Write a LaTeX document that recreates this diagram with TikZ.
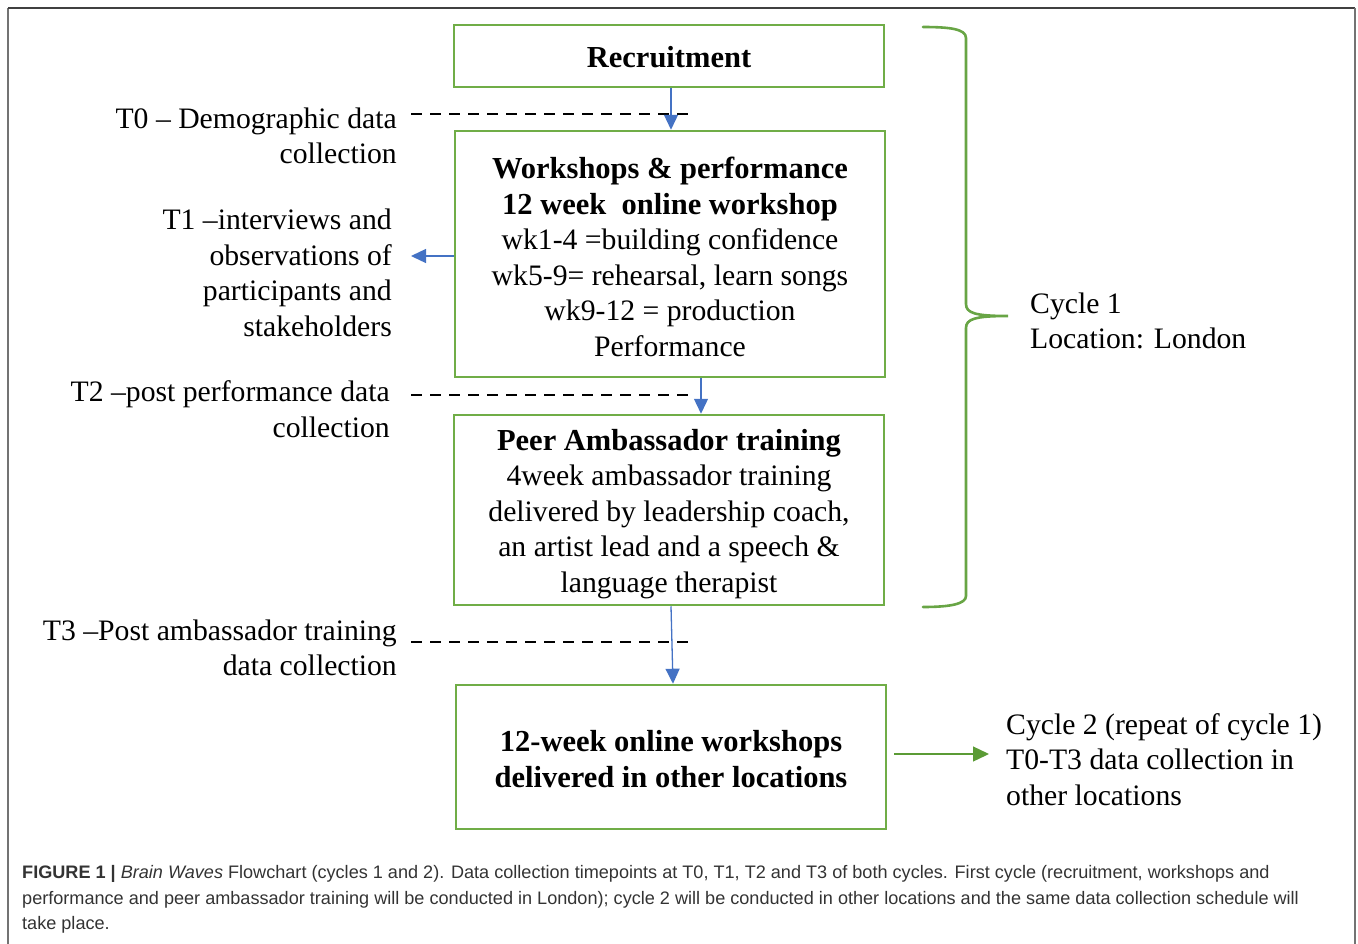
\documentclass[tikz,border=0pt]{standalone}
\usepackage{fontspec}
\setmainfont{Liberation Serif}
\newfontfamily\capfont{Liberation Sans}
\usetikzlibrary{arrows.meta,calc}
\definecolor{boxgreen}{HTML}{70AD47}
\definecolor{bracegreen}{HTML}{68A545}
\definecolor{arrgreen}{HTML}{5B9B35}
\definecolor{arrblue}{HTML}{4472C4}
\definecolor{capgray}{HTML}{333333}
\newcommand\myBodyFont{\fontsize{29.7}{35.5}\selectfont}
\newcommand\myBoldLine[1]{{\fontsize{30.5}{35.5}\selectfont\bfseries #1}}
\begin{document}
\begin{tikzpicture}[x=1pt,y=-1pt,
  box/.style={draw=boxgreen,line width=2.5pt,minimum width=430pt,inner sep=0pt},
  boxtext/.style={align=center,inner sep=0pt,font=\myBodyFont},
  lbl/.style={align=right,inner sep=0pt,font=\myBodyFont,anchor=east},
  rlbl/.style={align=left,inner sep=0pt,font=\myBodyFont,anchor=west},
  bluearr/.style={draw=arrblue,line width=1.3pt,-{Triangle[length=15pt,width=14pt]}},
  greenarr/.style={draw=arrgreen,line width=1.3pt,-{Triangle[length=16pt,width=15pt]}},
  dashline/.style={draw=black,line width=2.6pt,dash pattern=on 11pt off 8pt},
  frameline/.style={line width=2pt}]
\useasboundingbox (0,0) rectangle (1358,943);
% outer frame
\draw[frameline,draw=black!55] (8,950) -- (8,8);
\draw[frameline,draw=black!75] (8,8) -- (1355,8);
\draw[frameline,draw=black!55] (1355,8) -- (1355,950);
% boxes
\node[box,minimum height=62pt] (rec) at (669,56) {};
\node[box,minimum height=246pt] (ws) at (670,254) {};
\node[box,minimum height=190pt] (peer) at (669,510) {};
\node[box,minimum height=144pt] (other) at (671,757) {};
% box texts
\node[boxtext] (rect) at ($(rec.center)+(0,1)$) {\myBoldLine{Recruitment}};
\node[boxtext] (wst) at ($(ws.center)+(0,3)$) {\myBoldLine{Workshops \& performance}\\\myBoldLine{12 week\ \ online workshop}\\wk1-4 =building confidence\\wk5-9= rehearsal, learn songs\\wk9-12 = production\\Performance};
\node[boxtext] (peert) at ($(peer.center)+(0,4)$) {\myBoldLine{Peer Ambassador training}\\4week ambassador training\\delivered by leadership coach,\\an artist lead and a speech \&\\language therapist};
\node[boxtext] (othert) at ($(other.center)+(0,2)$) {\myBoldLine{12-week online workshops}\\\myBoldLine{delivered in other locations}};
% left labels
\node[lbl] (t0) at (397,136) {T0 -- Demographic data\\collection};
\node[lbl] (t1) at (392,273) {T1 --interviews and\\observations of\\participants and\\stakeholders};
\node[lbl] (t2) at (390,409) {T2 --post performance data\\collection};
\node[lbl] (t3) at (397,648) {T3 --Post ambassador training\\data collection};
% right labels
\node[rlbl] (c1) at (1030,321) {Cycle 1\\Location: London};
\node[rlbl] (c2) at (1006,759.5) {Cycle 2 (repeat of cycle 1)\\T0-T3 data collection in\\other locations};
% dashed timepoint lines
\coordinate (d0a) at (411,114); \coordinate (d0b) at (693,114);
\coordinate (d2a) at (411,395); \coordinate (d2b) at (693,395);
\coordinate (d3a) at (411,642); \coordinate (d3b) at (693,642);
\draw[dashline] (d0a) -- (d0b);
\draw[dashline] (d2a) -- (d2b);
\draw[dashline] (d3a) -- (d3b);
% arrows
\draw[bluearr] (rec.south -| 671,0) -- (ws.north -| 671,0);
\coordinate (t1end) at (411,256);
\draw[bluearr] (ws.west |- 0,256) -- (t1end);
\draw[bluearr] (ws.south -| 701,0) -- (peer.north -| 701,0);
\draw[bluearr] (peer.south -| 671,0) -- (other.north -| 673,0);
\coordinate (c2arr) at (989,754);
\draw[greenarr,shorten <=7pt] (other.east |- 0,754) -- (c2arr);
% brace
\draw[draw=bracegreen,line width=2.6pt,line cap=round]
  (923,27) .. controls (950,27) and (966,29) .. (966,38)
  -- (966,304) .. controls (966,313) and (975,316) .. (1008,316)
  .. controls (975,316) and (966,319) .. (966,328)
  -- (966,596) .. controls (966,604) and (950,607) .. (923,607);
% caption
\node[anchor=west,align=left,inner sep=0pt,text=capgray,font=\capfont\fontsize{18.1}{25.7}\selectfont] (cap) at (22,899.5)
 {\textbf{FIGURE 1 |} \textit{Brain Waves} Flowchart (cycles 1 and 2). Data collection timepoints at T0, T1, T2 and T3 of both cycles. First cycle (recruitment, workshops and\\performance and peer ambassador training will be conducted in London); cycle 2 will be conducted in other locations and the same data collection schedule will\\take place.};
\end{tikzpicture}
\end{document}
